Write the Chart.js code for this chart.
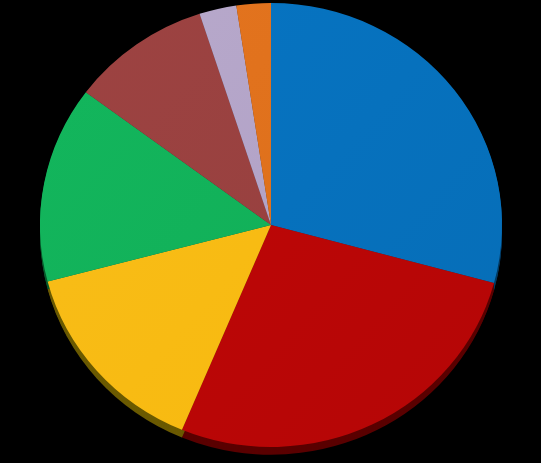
<!DOCTYPE html>
<html>
<head>
<meta charset="utf-8">
<script src="https://cdn.jsdelivr.net/npm/chart.js@4"></script>
<style>
  html, body { margin: 0; padding: 0; background: #000; }
  #box { width: 541px; height: 463px; }
</style>
</head>
<body>
<div id="box"><canvas id="myChart"></canvas></div>
<script>
// dati (percentuali, in senso orario da ore 12)
const categories = ['A', 'B', 'C', 'D', 'E', 'F', 'G'];
const values = [29.2, 27.1, 14.6, 14.3, 9.8, 2.6, 2.4];
const colors = ['#0670bc', '#ba0606', '#f8bc12', '#12b058', '#98403f', '#b2a2c7', '#e0711a'];
const sideColors = ['#033a62', '#5a0000', '#6b5a00', '#085a2c', '#4d2020', '#5a5164', '#70380c'];

// centro e schiacciamento della torta nell'immagine
const CX = 271, CY = 225, SQUASH = 0.961, DEPTH = 8;

function shade(ctx, i) {
  const chart = ctx.chart;
  const area = chart.chartArea;
  if (!area) return colors[i];
  const g = chart.ctx.createLinearGradient(area.left, area.top, area.right, area.bottom);
  g.addColorStop(0, Chart.helpers.color(colors[i]).lighten(0.04).rgbString());
  g.addColorStop(1, Chart.helpers.color(colors[i]).darken(0.03).rgbString());
  return g;
}

// effetto 3D: ellisse + bordo scuro sotto
const pie3d = {
  id: 'pie3d',
  beforeDatasetsDraw(chart) {
    const ctx = chart.ctx;
    const arcs = chart.getDatasetMeta(0).data;
    if (!arcs.length) return;
    const ox = arcs[0].x, oy = arcs[0].y;
    ctx.save();
    ctx.translate(CX, CY);
    ctx.scale(1, SQUASH);
    ctx.translate(-ox, -oy);
    arcs.forEach((a, i) => {
      for (let d = DEPTH; d > 0; d--) {
        ctx.beginPath();
        ctx.moveTo(a.x, a.y + d);
        ctx.arc(a.x, a.y + d, a.outerRadius, a.startAngle, a.endAngle);
        ctx.closePath();
        ctx.fillStyle = sideColors[i];
        ctx.fill();
      }
    });
  },
  afterDatasetsDraw(chart) {
    chart.ctx.restore();
  }
};

const ctx = document.getElementById('myChart').getContext('2d');
const myChart = new Chart(ctx, {
  type: 'pie',
  data: {
    labels: categories,
    datasets: [{
      data: values,
      backgroundColor: c => shade(c, c.dataIndex),
      borderWidth: 0,
      hoverOffset: 0
    }]
  },
  options: {
    responsive: true,
    maintainAspectRatio: false,
    animation: false,
    layout: { padding: { top: 0, bottom: 1, left: 0, right: 0 } },
    plugins: {
      legend: { display: false },
      tooltip: { enabled: false }
    }
  },
  plugins: [pie3d]
});
</script>
</body>
</html>
